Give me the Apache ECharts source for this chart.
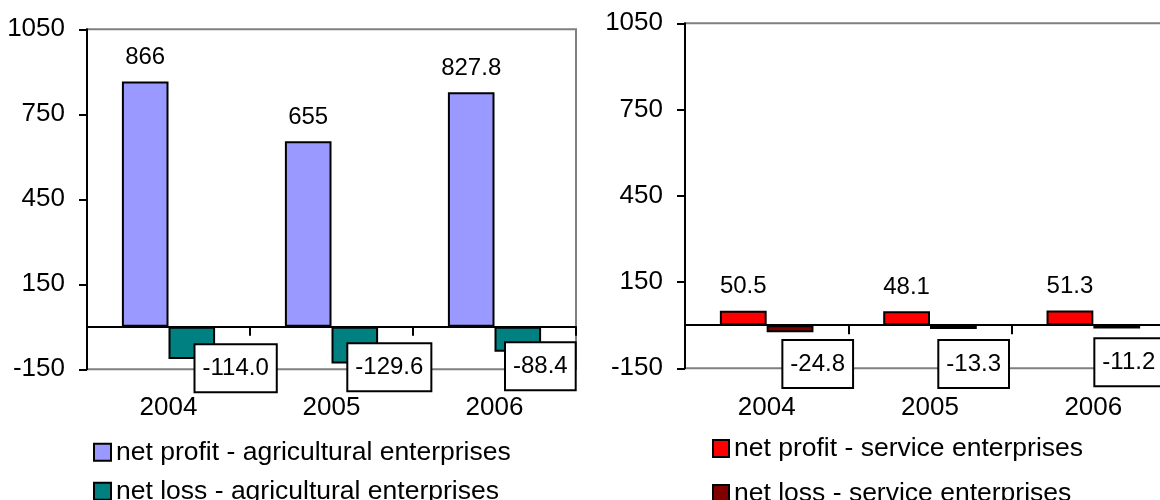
<!DOCTYPE html>
<html>
<head>
<meta charset="utf-8">
<script src="https://cdn.jsdelivr.net/npm/echarts@6/dist/echarts.min.js"></script>
<style>
  html, body { margin: 0; padding: 0; background: #fff; }
  #chart { width: 1160px; height: 500px; }
</style>
</head>
<body>
<div id="chart"></div>
<script>
// ---- data ----
const years = ['2004', '2005', '2006'];
const agriProfit = [866, 655, 827.8];
const agriLoss = [-114.0, -129.6, -88.4];
const servProfit = [50.5, 48.1, 51.3];
const servLoss = [-24.8, -13.3, -11.2];
const yTicks = [-150, 150, 450, 750, 1050];
const agriNames = ['net profit - agricultural enterprises', 'net loss - agricultural enterprises'];
const servNames = ['net profit - service enterprises', 'net loss - service enterprises'];

// ---- style (label placement relative to each loss bar) ----
const agriLossLabelPos = [[27, 18.5], [16.8, 17.5], [11.5, 16.5]];
const servLossLabelPos = [[16.7, 15.8], [9.3, 15.8], [2, 14.1]];

const FONT = "'Liberation Sans', Arial, sans-serif";

function yAxis(gi) {
  return {
    type: 'value', gridIndex: gi,
    min: yTicks[0], max: yTicks[yTicks.length - 1],
    axisLine: { show: true, lineStyle: { color: '#000', width: 2 } },
    axisTick: { show: true, length: 8, lineStyle: { color: '#000', width: 2 }, customValues: yTicks },
    axisLabel: { customValues: yTicks, margin: 22, fontSize: 26, color: '#000', fontFamily: FONT, formatter: v => String(v) },
    splitLine: { show: false }
  };
}
function xAxis(gi, margin) {
  return {
    type: 'category', gridIndex: gi, data: years,
    axisLine: { onZero: true, lineStyle: { color: '#000', width: 2 } },
    axisTick: { show: true, length: 9, lineStyle: { color: '#000', width: 2 } },
    axisLabel: { margin: margin, fontSize: 26, color: '#000', fontFamily: FONT },
    splitLine: { show: false }
  };
}
const posLabel = { show: true, position: 'top', distance: 12, fontSize: 24, color: '#000', fontFamily: FONT };
const negLabel = {
  show: true, fontSize: 24, color: '#000', fontFamily: FONT,
  formatter: p => Number(p.value).toFixed(1),
  backgroundColor: '#fff', borderColor: '#000', borderWidth: 2,
  padding: [10, 7], lineHeight: 26
};

const option = {
  animation: false,
  backgroundColor: '#fff',
  grid: [
    { left: 87, top: 29.3, width: 489, height: 340, show: true, borderColor: '#808080', borderWidth: 2, containLabel: false, outerBoundsMode: 'none' },
    { left: 685, top: 23.3, width: 490, height: 345, show: true, borderColor: '#808080', borderWidth: 2, containLabel: false, outerBoundsMode: 'none' }
  ],
  xAxis: [xAxis(0, 26), xAxis(1, 27)],
  yAxis: [yAxis(0), yAxis(1)],
  legend: [
    {
      data: agriNames, orient: 'vertical', left: 93, top: 438.7, height: 120, width: 500, padding: 0,
      itemWidth: 17, itemHeight: 17, itemGap: 12, icon: 'rect',
      itemStyle: { borderColor: '#000', borderWidth: 2 },
      textStyle: { fontSize: 26.5, lineHeight: 26, color: '#000', fontFamily: FONT }
    },
    {
      data: servNames, orient: 'vertical', left: 712, top: 435, height: 120, width: 440, padding: 0,
      itemWidth: 16, itemHeight: 17, itemGap: 18, icon: 'rect',
      itemStyle: { borderColor: '#000', borderWidth: 2 },
      textStyle: { fontSize: 26.5, lineHeight: 26, color: '#000', fontFamily: FONT }
    }
  ],
  series: [
    {
      name: agriNames[0], type: 'bar', xAxisIndex: 0, yAxisIndex: 0,
      data: agriProfit, barWidth: 46.6, barGap: '0%',
      itemStyle: { color: '#9999FF', borderColor: '#000', borderWidth: 2 },
      label: posLabel
    },
    {
      name: agriNames[1], type: 'bar', xAxisIndex: 0, yAxisIndex: 0,
      data: agriLoss.map((v, i) => ({ value: v, label: { position: agriLossLabelPos[i] } })),
      barWidth: 46.6, barGap: '0%',
      itemStyle: { color: '#008080', borderColor: '#000', borderWidth: 2 },
      label: negLabel
    },
    {
      name: servNames[0], type: 'bar', xAxisIndex: 1, yAxisIndex: 1,
      data: servProfit, barWidth: 46.8, barGap: '0%',
      itemStyle: { color: '#FF0000', borderColor: '#000', borderWidth: 2 },
      label: posLabel
    },
    {
      name: servNames[1], type: 'bar', xAxisIndex: 1, yAxisIndex: 1,
      data: servLoss.map((v, i) => ({ value: v, label: { position: servLossLabelPos[i] } })),
      barWidth: 46.8, barGap: '0%',
      itemStyle: { color: '#800000', borderColor: '#000', borderWidth: 2 },
      label: negLabel
    }
  ]
};
const chart = echarts.init(document.getElementById('chart'), null, { renderer: 'canvas' });
chart.setOption(option);
</script>
</body>
</html>
